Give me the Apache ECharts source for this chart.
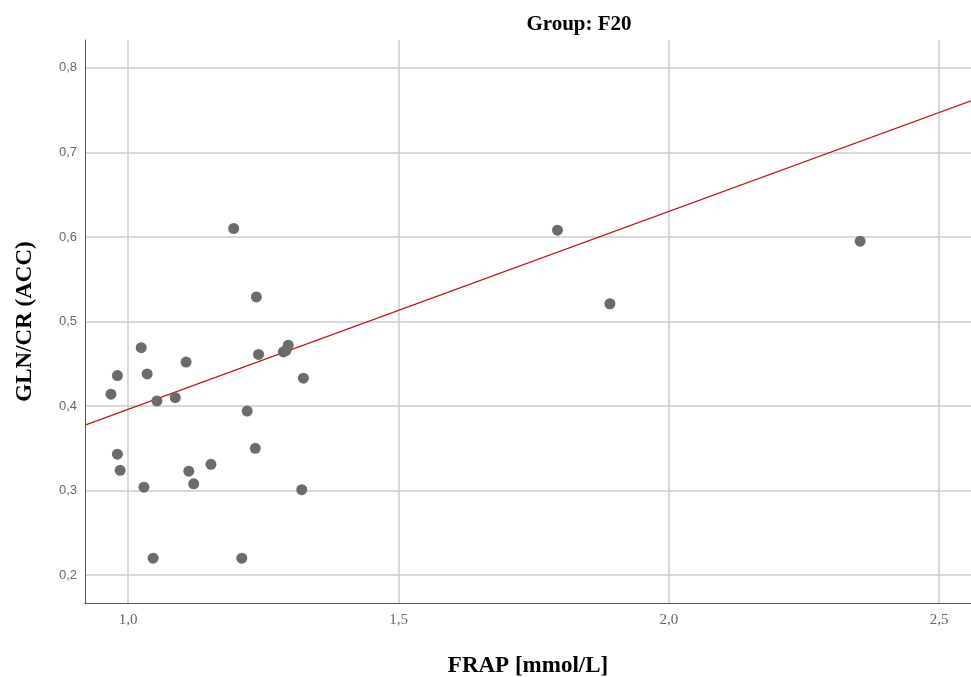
<!DOCTYPE html>
<html>
<head>
<meta charset="utf-8">
<title>Group: F20</title>
<script src="https://cdn.jsdelivr.net/npm/echarts@6/dist/echarts.min.js"></script>
<style>
  html, body { margin: 0; padding: 0; background: #fff; }
  #chart { width: 971px; height: 677px; }
</style>
</head>
<body>
<div id="chart"></div>
<script>
// FRAP [mmol/L] vs GLN/CR (ACC)
const frap = [0.968, 0.980, 1.024, 1.035, 1.053, 1.087, 1.107, 1.195, 1.237, 1.241,
  1.287, 1.292, 1.296, 1.324, 1.220, 1.235, 0.980, 0.985, 1.029, 1.112,
  1.121, 1.153, 1.321, 1.046, 1.210, 1.794, 1.891, 2.354]
const glnCr = [0.414, 0.436, 0.469, 0.438, 0.406, 0.410, 0.452, 0.610, 0.529, 0.461,
  0.464, 0.466, 0.472, 0.433, 0.394, 0.350, 0.343, 0.324, 0.304, 0.323,
  0.308, 0.331, 0.301, 0.220, 0.220, 0.608, 0.521, 0.595]

// fit line, ends at the axis edges
const fitX = [0.92, 2.559]
const fitY = [0.3775, 0.761]

const points = frap.map((x, i) => [x, glnCr[i]])
const fitLine = fitX.map((x, i) => [x, fitY[i]])

const comma = v => v.toFixed(1).replace('.', ',')

const chart = echarts.init(document.getElementById('chart'))
const option = {
  animation: false,
  title: {
    text: 'Group: F20',
    left: 574,
    top: 9,
    textAlign: 'center',
    textStyle: { fontFamily: 'Liberation Serif', fontWeight: 'bold', fontSize: 21, color: '#000' }
  },
  grid: { left: 85, right: 0, top: 40, bottom: 74, outerBoundsMode: 'none', containLabel: false },
  xAxis: {
    type: 'value',
    min: 0.92,
    max: 2.559,
    splitNumber: 4,
    name: 'FRAP [mmol/L]',
    nameLocation: 'middle',
    nameGap: 52,
    nameTextStyle: { fontFamily: 'Liberation Serif', fontWeight: 'bold', fontSize: 23, color: '#000' },
    axisLine: { lineStyle: { color: '#555', width: 1 } },
    axisTick: { show: false },
    axisLabel: {
      formatter: comma, showMinLabel: false, showMaxLabel: false, margin: 10,
      fontFamily: 'Liberation Serif', fontSize: 15, color: '#666'
    },
    splitLine: { showMinLine: false, showMaxLine: false, lineStyle: { color: '#cccccc', width: 1.5 } }
  },
  yAxis: {
    type: 'value',
    min: 0.167,
    max: 0.833,
    splitNumber: 7,
    name: 'GLN/CR (ACC)',
    nameLocation: 'middle',
    nameGap: 48,
    nameTextStyle: { fontFamily: 'Liberation Serif', fontWeight: 'bold', fontSize: 23, color: '#000' },
    axisLine: { show: true, lineStyle: { color: '#555', width: 1 } },
    axisTick: { show: false },
    axisLabel: {
      formatter: comma, showMinLabel: false, showMaxLabel: false, margin: 8,
      fontFamily: 'Liberation Sans', fontSize: 13, color: '#666'
    },
    splitLine: { showMinLine: false, showMaxLine: false, lineStyle: { color: '#cccccc', width: 1.5 } }
  },
  series: [
    {
      type: 'line',
      data: fitLine,
      symbol: 'none',
      lineStyle: { color: '#c0181c', width: 1.3 },
      z: 2
    },
    {
      type: 'scatter',
      data: points,
      symbolSize: 11,
      itemStyle: { color: '#6b6b6b', opacity: 1 },
      z: 3
    }
  ]
}
chart.setOption(option)
</script>
</body>
</html>
